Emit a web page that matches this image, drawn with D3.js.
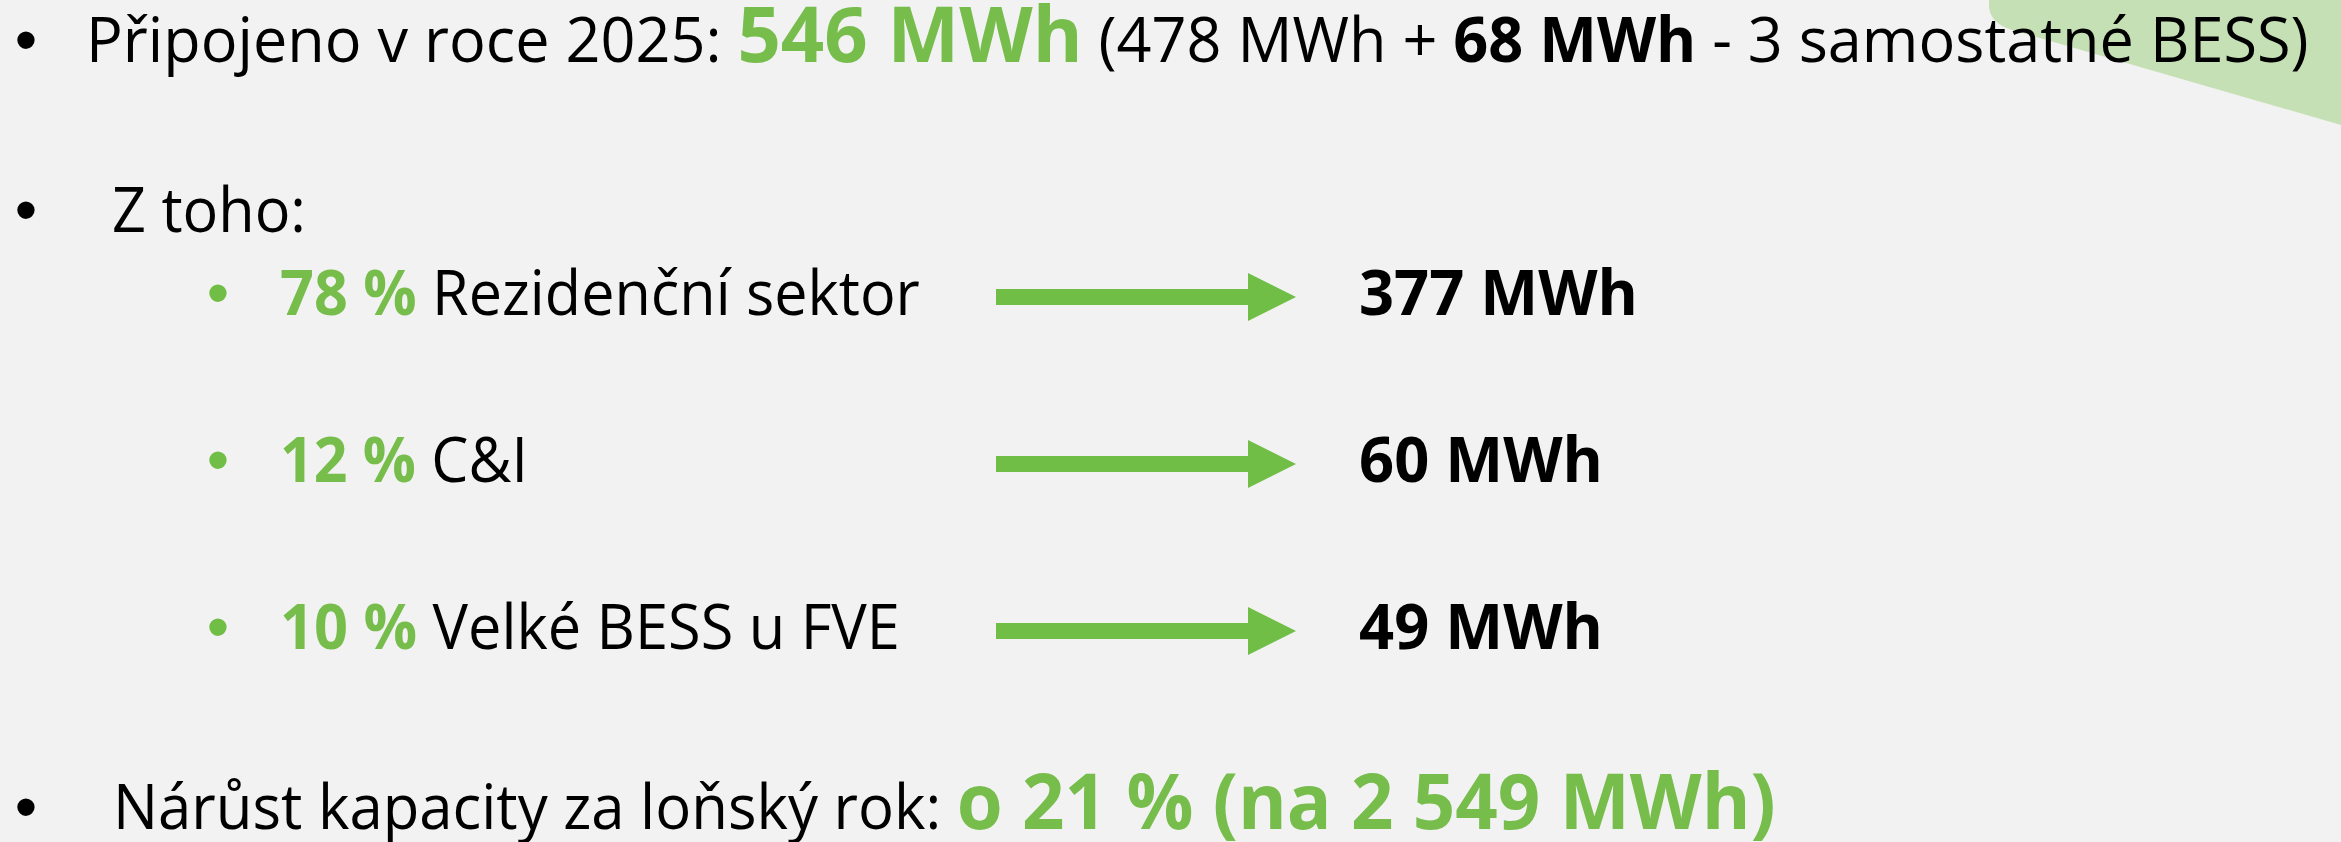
<!DOCTYPE html>
<html>
<head>
<meta charset="utf-8">
<script src="https://cdn.jsdelivr.net/npm/d3@7"></script>
<style>
  html, body { margin: 0; padding: 0; background: #f2f2f2; }
  svg { display: block; }
  text { font-family: "Open Sans", "Noto Sans", sans-serif; fill: #000; }
  .reg { font-size: 62px; font-weight: 400; }
  .bold { font-size: 62px; font-weight: 700; }
  .big { font-size: 77px; font-weight: 700; fill: #77bd4c; }
  .green { fill: #77bd4c; }
</style>
</head>
<body>
<div id="chart"></div>
<script>
// données de la diapositive
var year = 2025;
var connectedTotal = 546;          // MWh připojeno v roce 2025
var connectedParts = [478, 68];    // MWh (+ samostatné BESS)
var standaloneCount = 3;
var segments = ["Rezidenční sektor", "C&I", "Velké BESS u FVE"];
var shares = [78, 12, 10];         // %
var capacities = [377, 60, 49];    // MWh
var growthPct = 21;
var totalCapacity = 2549;          // MWh

var width = 2341, height = 842;
var green = "#70be45";

var cz = d3.formatLocale({decimal: ",", thousands: "\u00a0", grouping: [3], currency: ["", " Kč"]});
var fmt = cz.format(",d");

var svg = d3.select("#chart").append("svg")
    .attr("width", width)
    .attr("height", height);

// trojúhelník vpravo nahoře
svg.append("path")
    .attr("d", "M1989,0 H2341 V125 L2012,30 Q1989,23 1989,5 Z")
    .attr("fill", "#c6e0b5");

// řádek textu, zúžený na šířku originálu (Calibri je užší než Open Sans)
function textLine(x0, baseline, right, parts) {
  var g = svg.append("g").attr("transform", "translate(" + x0 + "," + baseline + ")");
  var t = g.append("text").attr("x", 0).attr("y", 0).attr("xml:space", "preserve");
  parts.forEach(function(p) {
    t.append("tspan").attr("class", p[1]).text(p[0]);
  });
  var sx = (right - x0) / t.node().getComputedTextLength();
  t.attr("transform", "scale(" + sx + ",1)");
  return t;
}

function bullet(cx, baseline, color) {
  svg.append("text")
      .attr("x", cx)
      .attr("y", baseline)
      .attr("text-anchor", "middle")
      .style("font-family", "'Liberation Sans', Arial, sans-serif")
      .style("font-size", "64px")
      .style("fill", color)
      .text("\u2022");
}

// řádek 1
textLine(86, 62, 2309, [
  ["Připojeno v roce " + year + ": ", "reg"],
  [connectedTotal + " MWh", "big"],
  [" (" + connectedParts[0] + " MWh + ", "reg"],
  [connectedParts[1] + " MWh", "bold"],
  [" - " + standaloneCount + " samostatné BESS)", "reg"]
]);
bullet(26, 62, "#000");

// řádek 2
textLine(112, 232, 306, [["Z toho:", "reg"]]);
bullet(26, 232, "#000");

// segmenty
var y = d3.scalePoint().domain(segments).range([315, 649]);
var xArrow = d3.scaleLinear().domain([0, 1]).range([996, 1296]);
var textRight = [920, 528, 900];
var valueRight = [1638, 1603, 1603];

segments.forEach(function(s, i) {
  var base = y(s);
  bullet(218, base, green);
  textLine(280, base, textRight[i], [
    [shares[i] + " % ", "bold green"],
    [s, "reg"]
  ]);

  var cy = base - 18;
  var x0 = xArrow(0), x1 = xArrow(0.84), x2 = xArrow(1);
  svg.append("path")
      .attr("d", d3.line()([
        [x0, cy - 8], [x1, cy - 8], [x1, cy - 24], [x2, cy],
        [x1, cy + 24], [x1, cy + 8], [x0, cy + 8]
      ]) + "Z")
      .attr("fill", green);

  textLine(1359, base, valueRight[i], [[capacities[i] + " MWh", "bold"]]);
});

// poslední řádek
textLine(113, 829, 1776, [
  ["Nárůst kapacity za loňský rok: ", "reg"],
  ["o " + growthPct + " % (na " + fmt(totalCapacity) + " MWh)", "big"]
]);
bullet(26, 829, "#000");
</script>
</body>
</html>
